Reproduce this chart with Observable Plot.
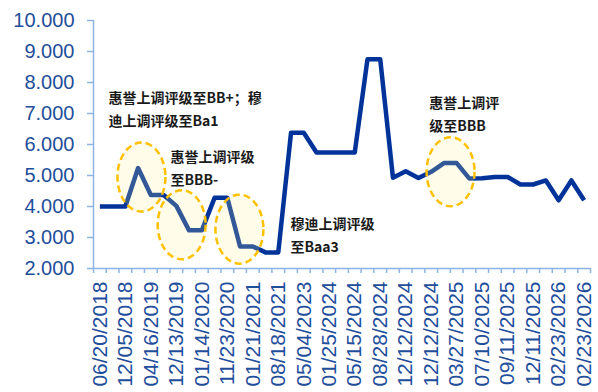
<!DOCTYPE html>
<html>
<head>
<meta charset="utf-8">
<script src="https://cdn.jsdelivr.net/npm/d3@7"></script>
<script src="https://cdn.jsdelivr.net/npm/@observablehq/plot@0.6"></script>
<style>
  html, body { margin: 0; padding: 0; background: #fff; }
</style>
</head>
<body>
<div id="chart"></div>
<script>
// Series values, one per observation date (categorical x axis)
const values = [
  4.00, 4.00, 4.00, 5.24, 4.37, 4.37, 4.02, 3.23, 3.23, 4.28,
  4.28, 2.71, 2.71, 2.52, 2.52, 6.38, 6.38, 5.74, 5.74, 5.74,
  5.74, 8.75, 8.75, 4.93, 5.14, 4.92, 5.12, 5.40, 5.40, 4.90,
  4.91, 4.95, 4.95, 4.71, 4.71, 4.84, 4.20, 4.84, 4.20
];

// Tick labels shown on every second category
const tickLabels = [
  "06/20/2018", "12/05/2018", "04/16/2019", "12/13/2019", "01/14/2020",
  "11/23/2020", "01/21/2021", "08/18/2021", "05/04/2023", "01/25/2024",
  "05/15/2024", "08/28/2024", "12/12/2024", "12/12/2024", "03/27/2025",
  "07/10/2025", "09/11/2025", "12/11/2025", "02/23/2026", "02/23/2026"
];

const yTicks = [2, 3, 4, 5, 6, 7, 8, 9, 10];

// Annotation texts (x = category index, y = value)
const noteText = [
  "惠誉上调评级至BB+；穆\n迪上调评级至Ba1",
  "惠誉上调评级\n至BBB-",
  "穆迪上调评级\n至Baa3",
  "惠誉上调评\n级至BBB"
];
const noteX = [0.67, 5.54, 14.95, 25.85];
const noteY = [7.21, 5.31, 3.13, 7.05];

// Highlight ellipses (x = category index, y = value)
const ellipseX = [3.26, 6.42, 10.95, 27.52];
const ellipseY = [4.95, 3.41, 3.27, 5.12];

const notes = noteText.map((t, i) => ({text: t, x: noteX[i], y: noteY[i]}));
const ellipses = ellipseX.map((x, i) => ({x, y: ellipseY[i]}));

// ellipse-shaped symbol for the highlight marks
const RX = 24, RY = 34.5, K = 0.5523;
const ellipseSymbol = {
  draw(context) {
    context.moveTo(RX, 0);
    context.bezierCurveTo(RX, K * RY, K * RX, RY, 0, RY);
    context.bezierCurveTo(-K * RX, RY, -RX, K * RY, -RX, 0);
    context.bezierCurveTo(-RX, -K * RY, -K * RX, -RY, 0, -RY);
    context.bezierCurveTo(K * RX, -RY, RX, -K * RY, RX, 0);
    context.closePath();
  }
};

const axisColor = "#8db3e2";
const labelColor = "#1f4e9b";
const n = values.length;

const chart = Plot.plot({
  width: 598,
  height: 392,
  marginLeft: 93,
  marginRight: 8,
  marginTop: 20,
  marginBottom: 124,
  style: {fontFamily: "'Liberation Sans', Arial, sans-serif", background: "#fff"},
  x: {type: "linear", domain: [-0.5, n - 0.5], label: null},
  y: {domain: [2, 10], label: null},
  marks: [
    Plot.ruleX([-0.5], {stroke: axisColor, strokeWidth: 1.5}),
    Plot.ruleY([2], {stroke: axisColor, strokeWidth: 1.5}),
    Plot.axisY({
      ticks: yTicks, tickFormat: d3.format(".3f"), tickSize: 6, tickPadding: 13,
      stroke: axisColor, strokeWidth: 1.5, fill: labelColor, fontSize: 20, label: null
    }),
    Plot.axisX({
      ticks: d3.range(-0.5, n, 1), tickFormat: () => "", tickSize: 5,
      stroke: axisColor, strokeWidth: 1.5, label: null
    }),
    Plot.axisX({
      ticks: d3.range(0, n, 2), tickFormat: (i) => tickLabels[Math.round(i / 2)],
      tickSize: 0, tickPadding: 13, tickRotate: -90, fill: labelColor, fontSize: 21, label: null
    }),
    Plot.line(values, {
      x: (d, i) => i, y: (d) => d,
      stroke: "#00339a", strokeWidth: 4.5, strokeLinejoin: "round", strokeLinecap: "butt"
    }),
    Plot.dot(ellipses, {
      x: "x", y: "y", symbol: ellipseSymbol, r: 20,
      fill: "#ffee90", fillOpacity: 0.2,
      stroke: "#ffc000", strokeWidth: 2.5, strokeDasharray: "7,4"
    }),
    Plot.text(notes, {
      x: "x", y: "y", text: "text",
      textAnchor: "start", lineAnchor: "middle", lineHeight: 1.65,
      fontSize: 14, fontWeight: "bold", fill: "#1a1a1a",
      fontFamily: "'Noto Sans CJK SC', sans-serif"
    })
  ]
});

document.getElementById("chart").appendChild(chart);
</script>
</body>
</html>
